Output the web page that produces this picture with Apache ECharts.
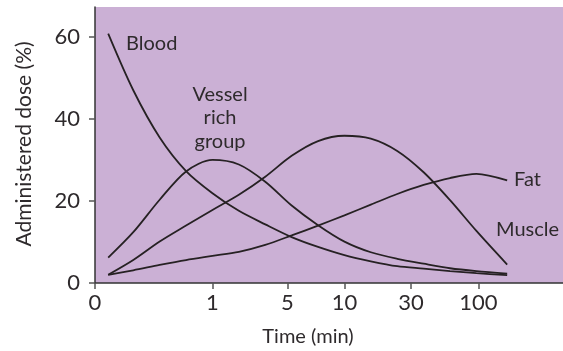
<!DOCTYPE html>
<html>
<head>
<meta charset="utf-8">
<script src="https://cdn.jsdelivr.net/npm/echarts@6/dist/echarts.min.js"></script>
<style>html,body{margin:0;padding:0;background:#fff}#c{width:563px;height:351px}</style>
</head>
<body>
<div id="c"></div>
<script>
// x positions are log-time decades relative to 1 min (as drawn on the original axis)
const xTickLabels = ["0", "1", "5", "10", "30", "100"];
const xTickPos = [-0.89, 0, 0.568, 1.0, 1.505, 2.015];
const yTicks = [0, 20, 40, 60];

const timePos = [-0.79, -0.6, -0.4, -0.2, 0, 0.2, 0.4, 0.6, 0.8, 1.0, 1.2, 1.4, 1.6, 1.8, 2.0, 2.233];
const blood  = [60.8, 47.0, 35.5, 27.3, 21.9, 17.6, 14.3, 11.2, 8.8, 6.8, 5.3, 4.1, 3.5, 2.9, 2.4, 1.9];
const vrg    = [6.2, 12.4, 20.3, 27.2, 30.0, 28.9, 24.7, 18.9, 14.1, 10.1, 7.5, 5.9, 4.7, 3.6, 2.9, 2.3];
const muscle = [2.0, 5.6, 10.1, 14.0, 17.8, 21.5, 25.9, 31.0, 34.6, 35.9, 35.2, 32.2, 27.0, 20.2, 12.7, 4.5];
const fat    = [2.0, 3.1, 4.4, 5.6, 6.6, 7.6, 9.3, 11.6, 14.0, 16.5, 19.1, 21.7, 23.9, 25.6, 26.6, 25.0];

const zip = (xs, ys) => xs.map((x, i) => [x, ys[i]]);
const FONT = 'Lato';
const TXT = '#2e2a2c';
const LINE = '#262123';

const chart = echarts.init(document.getElementById('c'), null, {renderer: 'canvas'});
const mkSeries = (name, ys) => ({
  name, type: 'line', smooth: 0.3, symbol: 'none',
  data: zip(timePos, ys),
  lineStyle: {color: LINE, width: 1.8},
  silent: true, animation: false
});
chart.setOption({
  animation: false,
  grid: {left: 95, right: 0, top: 7, bottom: 68, show: true, backgroundColor: '#cbb0d5', borderWidth: 0},
  xAxis: {
    type: 'value', min: -0.89, max: 2.656,
    axisLine: {onZero: false, lineStyle: {color: '#333', width: 1.5}},
    axisTick: {customValues: xTickPos, length: 6, lineStyle: {color: '#555', width: 1.5}},
    axisLabel: {
      customValues: xTickPos, margin: 9, color: TXT, fontFamily: FONT, fontSize: 22,
      formatter: v => { const i = xTickPos.findIndex(p => Math.abs(p - v) < 1e-6); return i >= 0 ? xTickLabels[i] : ''; }
    },
    splitLine: {show: false}
  },
  yAxis: {
    type: 'value', min: 0, max: 67.3,
    axisLine: {show: true, onZero: false, lineStyle: {color: '#333', width: 1.5}},
    axisTick: {show: true, customValues: yTicks, length: 6, lineStyle: {color: '#555', width: 1.5}},
    axisLabel: {customValues: yTicks, margin: 15, color: TXT, fontFamily: FONT, fontSize: 22},
    splitLine: {show: false}
  },
  series: [
    mkSeries('Blood', blood),
    mkSeries('Vessel rich group', vrg),
    mkSeries('Muscle', muscle),
    mkSeries('Fat', fat)
  ],
  graphic: [
    {type: 'text', x: 126, y: 44, style: {text: 'Blood', fill: TXT, font: '20px Lato', verticalAlign: 'middle'}},
    {type: 'text', x: 220, y: 118, style: {text: 'Vessel\nrich\ngroup', fill: TXT, font: '20px Lato', align: 'center', verticalAlign: 'middle', lineHeight: 23.5}},
    {type: 'text', x: 514, y: 180, style: {text: 'Fat', fill: TXT, font: '20px Lato', verticalAlign: 'middle'}},
    {type: 'text', x: 496, y: 230, style: {text: 'Muscle', fill: TXT, font: '20px Lato', verticalAlign: 'middle'}},
    {type: 'text', x: 308, y: 337, style: {text: 'Time (min)', fill: TXT, font: '20px Lato', align: 'center', verticalAlign: 'middle'}},
    {type: 'text', x: 24, y: 144, rotation: Math.PI / 2, style: {text: 'Administered dose (%)', fill: TXT, font: '21px Lato', align: 'center', verticalAlign: 'middle'}}
  ]
});
</script>
</body>
</html>
